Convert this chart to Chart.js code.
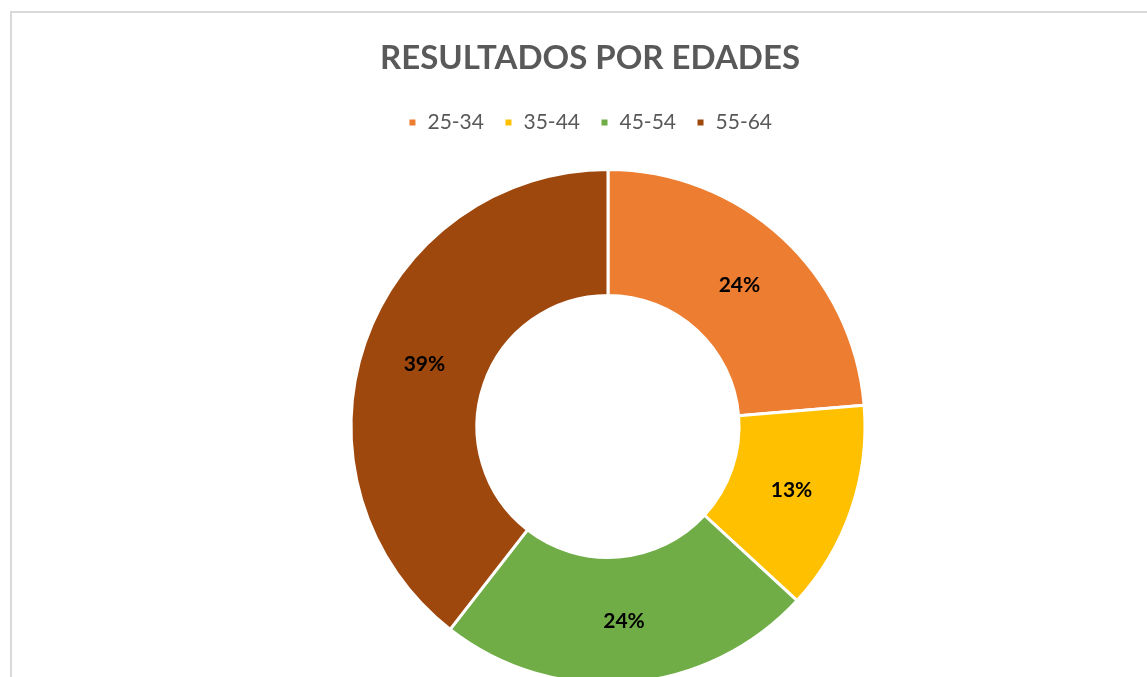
<!DOCTYPE html>
<html>
<head>
<meta charset="utf-8">
<script src="https://cdn.jsdelivr.net/npm/chart.js@4"></script>
<style>
  html, body { margin: 0; padding: 0; background: #ffffff; overflow: hidden; width: 1147px; height: 677px; }
  #frame { position: absolute; left: 10px; top: 11px; width: 1300px; height: 800px; border-left: 2px solid #d9d9d9; border-top: 2px solid #d9d9d9; }
  #c { position: absolute; left: 0; top: 0; }
</style>
</head>
<body>
<div id="frame"></div>
<canvas id="c" width="1180" height="720"></canvas>
<script>
const categories = ['25-34', '35-44', '45-54', '55-64'];
const counts = [9, 5, 9, 15];
const percentLabels = ['24%', '13%', '24%', '39%'];
const sliceColors = ['#ED7D31', '#FFC000', '#70AD47', '#9E480E'];
const chartTitle = 'RESULTADOS POR EDADES';

const FONT = 'Lato, "Open Sans", sans-serif';

const sliceLabels = {
  id: 'sliceLabels',
  afterDatasetsDraw(chart) {
    const ctx = chart.ctx;
    const meta = chart.getDatasetMeta(0);
    ctx.save();
    ctx.font = 'bold 21px ' + FONT;
    ctx.fillStyle = '#000000';
    ctx.textAlign = 'center';
    ctx.textBaseline = 'middle';
    meta.data.forEach((arc, i) => {
      const p = arc.tooltipPosition();
      ctx.fillText(percentLabels[i], p.x, p.y + 1);
    });
    ctx.restore();
  }
};

new Chart(document.getElementById('c'), {
  type: 'doughnut',
  data: {
    labels: categories,
    datasets: [{
      data: counts,
      backgroundColor: sliceColors,
      borderColor: '#ffffff',
      borderWidth: 3,
      radius: 257,
      cutout: '51%'
    }]
  },
  options: {
    responsive: false,
    animation: false,
    layout: { padding: { left: 0, right: 0, top: 0, bottom: 10 } },
    plugins: {
      title: {
        display: true,
        text: chartTitle,
        color: '#595959',
        font: { family: FONT, size: 33, weight: 'bold' },
        padding: { top: 39, bottom: 13.4 }
      },
      subtitle: {
        display: true,
        text: '',
        position: 'left',
        fullSize: false,
        font: { size: 10 },
        padding: { top: 24, bottom: 0 }
      },
      legend: {
        display: true,
        position: 'top',
        labels: {
          color: '#595959',
          font: { family: FONT, size: 21 },
          boxWidth: 9,
          boxHeight: 9,
          padding: 20
        }
      },
      tooltip: { enabled: false }
    }
  },
  plugins: [sliceLabels]
});
</script>
</body>
</html>
